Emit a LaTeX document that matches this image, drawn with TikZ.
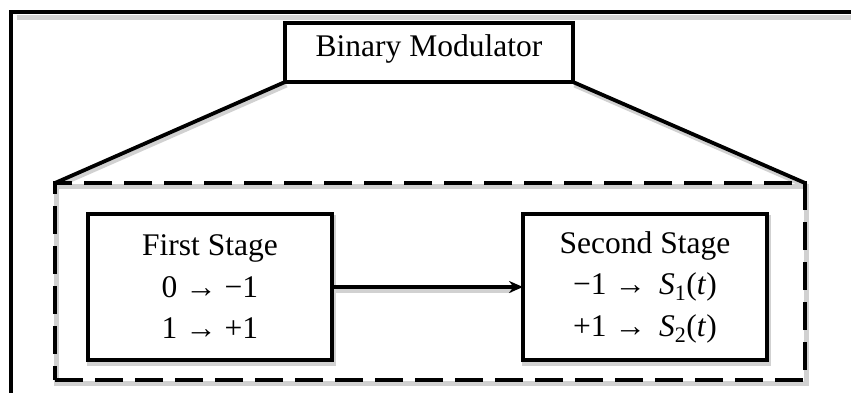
\documentclass[tikz,border=0pt]{standalone}
\usepackage{fontspec}
\setmainfont{Liberation Serif}
\usetikzlibrary{arrows.meta}
\begin{document}
\begin{tikzpicture}[x=1pt,y=-1pt,
  every node/.style={font=\fontsize{31.5}{41.5}\selectfont, inner sep=0pt, outer sep=0pt},
  frame/.style={line width=4pt, line cap=rect},
  blockbox/.style={draw, line width=3.8pt, minimum width=244pt, minimum height=146pt, align=center},
  topbox/.style={draw, line width=3.8pt, minimum width=288pt, minimum height=59pt},
  dashbox/.style={draw, line width=4pt, dash pattern=on 28pt off 12pt, minimum width=750pt, minimum height=197pt},
  link/.style={line width=3.8pt},
  flow/.style={line width=3.4pt, -{Stealth[length=14pt,width=12pt]}},
  shade/.style={draw=black!18, line width=5pt}
]
\useasboundingbox (0,0) rectangle (851,393);
\coordinate (fb) at (11,395);
\coordinate (ftl) at (11,12);
\coordinate (ftr) at (853,12);
% soft shadows
\begin{scope}[shift={(1.5,3)}]
  \draw[shade] (55,183) rectangle (805,380);
  \draw[shade] (88,214) rectangle (332,360);
  \draw[shade] (523,214) rectangle (767,360);
  \draw[shade] (285,82) -- (55,183);
  \draw[shade] (573,82) -- (805,183);
  \draw[shade] (332,287) -- (510,287);
  \draw[shade] (15,15) -- (851,15);
\end{scope}
\draw[frame] (fb) -- (ftl) -- (ftr);
\node[dashbox, fill=white, fill opacity=0] (dash) at (430,281.5) {};
\node[topbox, fill=white] (top) at (429,52.5) {};
\node at (429,49) {Binary Modulator};
\draw[link] (top.south west) -- (dash.north west);
\draw[link] (top.south east) -- (dash.north east);
\node[blockbox, fill=white] (first) at (210,287) {First Stage\\ 0 → −1\\ 1 → +1};
\node[blockbox, fill=white] (second) at (645,287) {Second Stage\\ −1 →\, \textit{S}\textsubscript{1}(\textit{t})\\ +1 →\, \textit{S}\textsubscript{2}(\textit{t})};
\draw[flow] (first.east) -- (second.west);
\end{tikzpicture}
\end{document}
